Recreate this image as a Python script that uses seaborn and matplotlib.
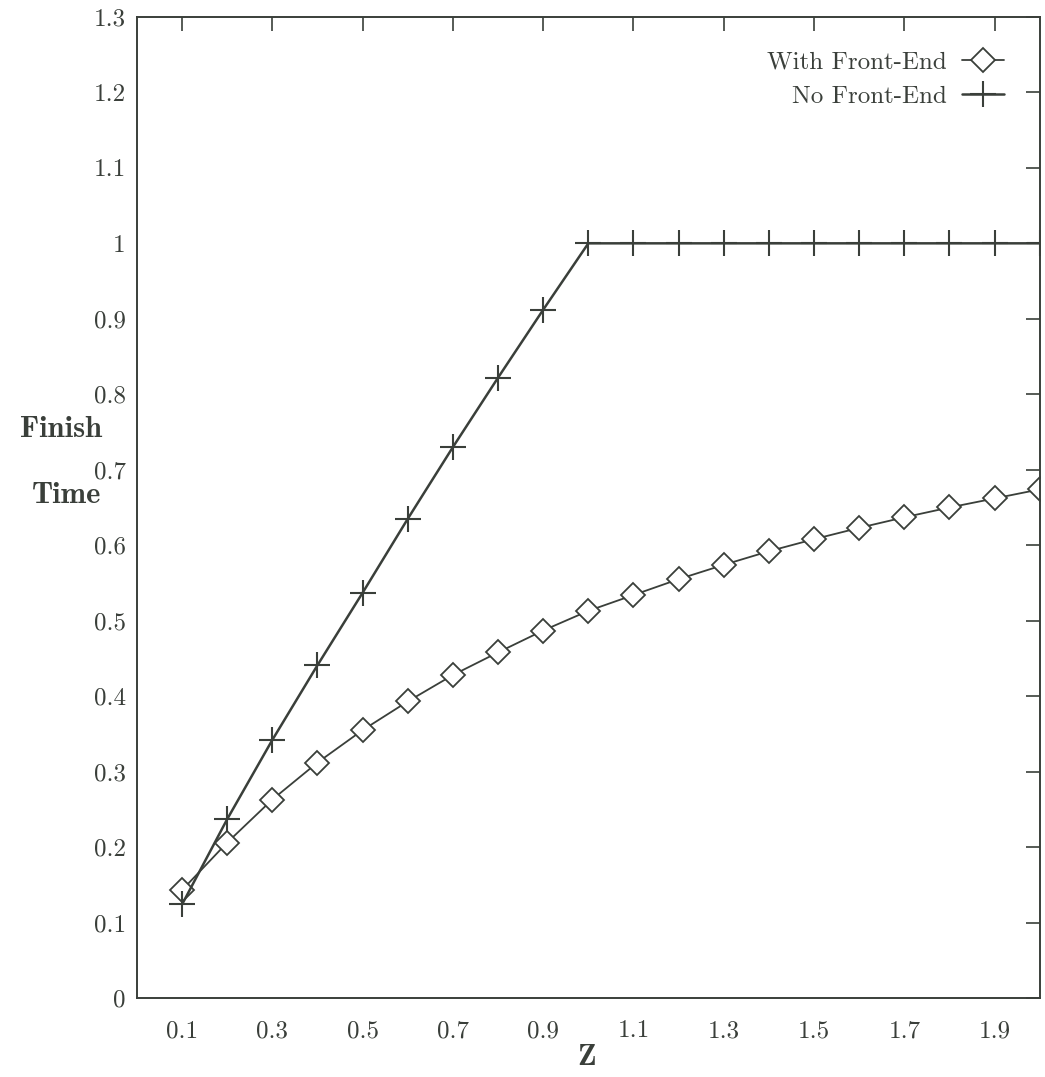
import matplotlib
matplotlib.use("Agg")
import matplotlib.pyplot as plt
import seaborn as sns
from matplotlib.ticker import FormatStrFormatter, MultipleLocator

z_no_fe = [0.1, 0.2, 0.3, 0.4, 0.5, 0.6, 0.7, 0.8, 0.9, 1.0,
           1.1, 1.2, 1.3, 1.4, 1.5, 1.6, 1.7, 1.8, 1.9, 2.0]
time_no_fe = [0.124, 0.237, 0.342, 0.441, 0.537, 0.635, 0.730, 0.822, 0.912, 1.0,
              1.0, 1.0, 1.0, 1.0, 1.0, 1.0, 1.0, 1.0, 1.0, 1.0]

z_with_fe = [0.1, 0.2, 0.3, 0.4, 0.5, 0.6, 0.7, 0.8, 0.9, 1.0,
             1.1, 1.2, 1.3, 1.4, 1.5, 1.6, 1.7, 1.8, 1.9, 2.0]
time_with_fe = [0.143, 0.206, 0.263, 0.312, 0.355, 0.393, 0.428, 0.458, 0.487, 0.513,
                0.534, 0.555, 0.574, 0.592, 0.608, 0.623, 0.637, 0.650, 0.662, 0.674]

sns.set_theme(style="white")
plt.rcParams["font.family"] = ["cmr10", "DejaVu Serif"]
plt.rcParams["axes.formatter.use_mathtext"] = True

ink = "#3a3f3a"

fig = plt.figure(figsize=(10.45, 10.77), dpi=100)
ax = fig.add_axes([0.131, 0.0733, 0.864, 0.911])

sns.lineplot(x=z_with_fe, y=time_with_fe, ax=ax, color=ink, linewidth=1.3,
             marker="D", markersize=12, markerfacecolor="white",
             markeredgecolor=ink, markeredgewidth=1.3, label="With Front-End")
sns.lineplot(x=z_no_fe, y=time_no_fe, ax=ax, color=ink, linewidth=1.8,
             marker="+", markersize=19, markeredgecolor=ink,
             markeredgewidth=1.5, label="No Front-End")

ax.set_xlim(0.0, 2.0)
ax.set_ylim(0, 1.3)
ax.xaxis.set_major_locator(MultipleLocator(0.2, offset=0.1))
ax.yaxis.set_major_locator(MultipleLocator(0.1))
ax.xaxis.set_major_formatter(FormatStrFormatter("%g"))
ax.yaxis.set_major_formatter(FormatStrFormatter("%g"))
ax.tick_params(direction="in", length=10, width=1.2, colors=ink,
               top=True, right=True, labelsize=18)
ax.tick_params(axis="x", pad=16)
ax.tick_params(axis="y", pad=8)
for s in ax.spines.values():
    s.set_color(ink)
    s.set_linewidth(1.4)

ax.set_xlabel("")
ax.set_ylabel("")
fig.text(0.058, 0.601, "Finish", fontsize=22, fontfamily="cmb10",
         color=ink, ha="center", va="center")
fig.text(0.064, 0.540, "Time", fontsize=22, fontfamily="cmb10",
         color=ink, ha="center", va="center")
fig.text(0.561, 0.018, "Z", fontsize=22, fontfamily="cmb10",
         color=ink, ha="center", va="center")

leg = ax.legend(loc="upper right", frameon=False, markerfirst=False,
                fontsize=18, handlelength=1.7, handletextpad=0.6,
                borderaxespad=0.0, labelspacing=0.45,
                bbox_to_anchor=(0.972, 0.975))
for t in leg.get_texts():
    t.set_color(ink)

fig.savefig("out.png", dpi=100, facecolor="white")
